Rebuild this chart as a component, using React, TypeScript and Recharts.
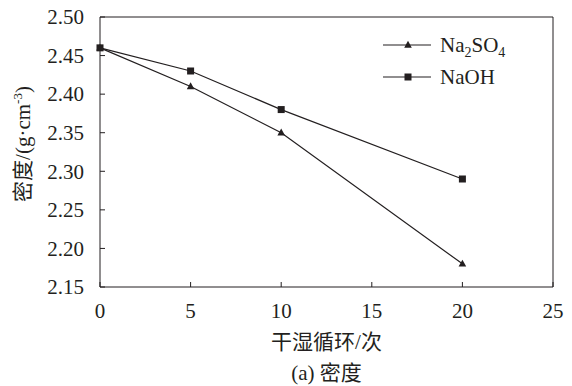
import React from "react";
import { Line, LineChart, ReferenceLine, XAxis, YAxis } from "recharts";

const cycles = [0, 5, 10, 20];
const na2so4 = [2.46, 2.41, 2.35, 2.18];
const naoh = [2.46, 2.43, 2.38, 2.29];
const xTicks = [0, 5, 10, 15, 20, 25];
const yTicks = [2.15, 2.2, 2.25, 2.3, 2.35, 2.4, 2.45, 2.5];

const data = cycles.map((c, i) => ({ cycle: c, na2so4: na2so4[i], naoh: naoh[i] }));

const FONT = "'Liberation Serif', 'Times New Roman', 'Noto Sans CJK SC', serif";
const INK = "#231f20";
const txt = { fontFamily: FONT, fontSize: 21 };

function Triangle(props: any) {
  const { cx, cy } = props;
  return <path key={props.key ?? `t-${cx}`} d={`M${cx},${cy - 4.2} L${cx + 3.8},${cy + 2.7} L${cx - 3.8},${cy + 2.7} Z`} fill={INK} />;
}

function Square(props: any) {
  const { cx, cy } = props;
  return <rect key={props.key ?? `s-${cx}`} x={cx - 3.5} y={cy - 3.5} width={7} height={7} fill={INK} />;
}

function YTick(props: any) {
  const { x, y, payload } = props;
  const ax = x + 15;
  return (
    <g>
      <line x1={ax} x2={ax + 5} y1={y} y2={y} stroke={INK} strokeWidth={1} />
      <text x={x - 1} y={y} dy="0.35em" textAnchor="end" style={txt} fill={INK}>
        {payload.value.toFixed(2)}
      </text>
    </g>
  );
}

function XTick(props: any) {
  const { x, y, payload } = props;
  const ay = y - 14;
  return (
    <g>
      <line x1={x} x2={x} y1={ay} y2={ay - 5} stroke={INK} strokeWidth={1} />
      <text x={x} y={y} dy="0.8em" textAnchor="middle" style={txt} fill={INK}>
        {payload.value}
      </text>
    </g>
  );
}

function LegendBox() {
  const sub = { fontSize: 14, lineHeight: 0 };
  return (
    <div style={{ position: "absolute", left: 383, top: 29, fontFamily: FONT, fontSize: 21, color: INK, lineHeight: "22px" }}>
      <div style={{ display: "flex", alignItems: "center", height: 32 }}>
        <svg width={50} height={12} style={{ marginRight: 7 }}>
          <line x1={0} x2={48} y1={6} y2={6} stroke={INK} strokeWidth={1.2} />
          <path d="M25,1.8 L28.8,8.7 L21.2,8.7 Z" fill={INK} />
        </svg>
        <span>
          Na<sub style={sub}>2</sub>SO<sub style={sub}>4</sub>
        </span>
      </div>
      <div style={{ display: "flex", alignItems: "center", height: 32 }}>
        <svg width={50} height={12} style={{ marginRight: 7 }}>
          <line x1={0} x2={48} y1={6} y2={6} stroke={INK} strokeWidth={1.2} />
          <rect x={21.5} y={2.5} width={7} height={7} fill={INK} />
        </svg>
        <span>NaOH</span>
      </div>
    </div>
  );
}

export default function App() {
  return (
    <div style={{ position: "absolute", left: 0, top: 0, width: 572, height: 386, background: "#fff" }}>
      <LineChart width={572} height={386} data={data} margin={{ top: 17, right: 19, left: 0, bottom: 0 }}>
        <XAxis
          dataKey="cycle"
          type="number"
          domain={[0, 25]}
          ticks={xTicks}
          axisLine={{ stroke: INK }}
          tickLine={false}
          tickSize={6}
          tickMargin={8}
          tick={<XTick />}
          height={99}
          label={{
            content: (p: any) => {
              const { x, y, width } = p.viewBox;
              const cx = x + width / 2;
              return (
                <g fill={INK}>
                  <text x={cx} y={y + 62} textAnchor="middle" style={txt}>干湿循环/次</text>
                  <text x={cx} y={y + 93} textAnchor="middle" style={txt}>(a) 密度</text>
                </g>
              );
            },
          }}
        />
        <YAxis
          type="number"
          domain={[2.15, 2.5]}
          ticks={yTicks}
          axisLine={{ stroke: INK }}
          tickLine={false}
          tickSize={6}
          tickMargin={9}
          tick={<YTick />}
          width={100}
          label={{
            content: () => {
              const cy = 144;
              return (
                <text
                  x={30}
                  y={cy}
                  transform={`rotate(-90 30 ${cy})`}
                  textAnchor="middle"
                  style={txt}
                  fill={INK}
                >
                  密度/(g·cm
                  <tspan dy={-8} style={{ fontSize: 13 }}>-3</tspan>
                  <tspan dy={8}>)</tspan>
                </text>
              );
            },
          }}
        />
        <ReferenceLine y={2.5} stroke={INK} strokeWidth={1} />
        <ReferenceLine x={25} stroke={INK} strokeWidth={1} />
        <Line
          type="linear"
          dataKey="na2so4"
          stroke={INK}
          strokeWidth={1.2}
          dot={<Triangle />}
          activeDot={false}
          isAnimationActive={false}
          name="Na2SO4"
        />
        <Line
          type="linear"
          dataKey="naoh"
          stroke={INK}
          strokeWidth={1.2}
          dot={<Square />}
          activeDot={false}
          isAnimationActive={false}
          name="NaOH"
        />
      </LineChart>
      <LegendBox />
    </div>
  );
}
